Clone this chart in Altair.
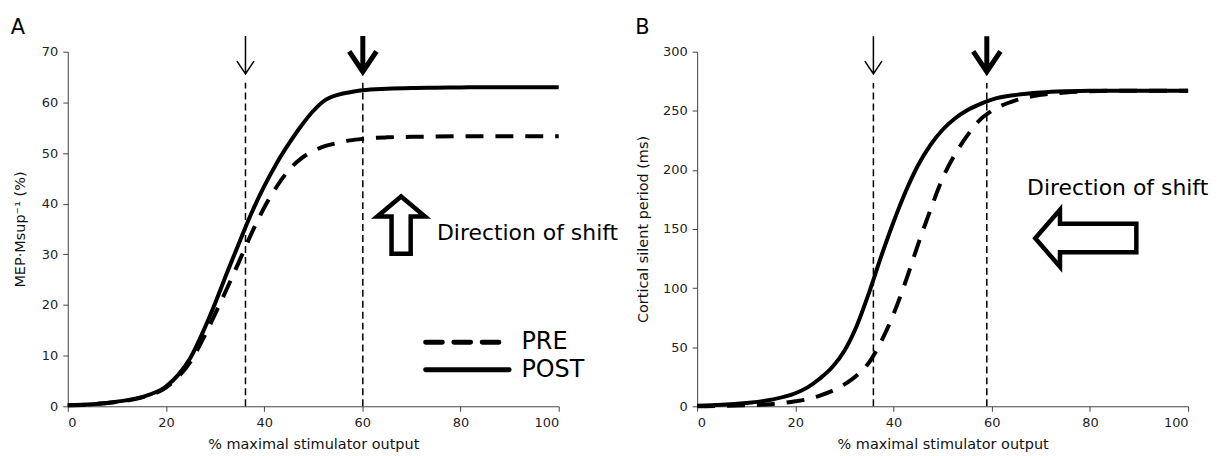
import altair as alt
import pandas as pd

# ---------------- data ----------------
stim = [0, 5, 10, 15, 20, 22.5, 25, 27.5, 30, 32.5, 35, 37.5, 40, 42.5, 45, 47.5,
        50, 52.5, 55, 57.5, 60, 65, 70, 75, 80, 85, 90, 95, 100]

mep_pre = [0.2, 0.4, 0.9, 1.7, 3.7, 5.8, 8.8, 13.2, 18.2, 23.4, 28.8, 34.3, 39.2, 43.3,
           46.6, 48.9, 50.4, 51.4, 52.0, 52.5, 52.8, 53.1, 53.2, 53.25, 53.3, 53.3,
           53.3, 53.3, 53.3]
mep_post = [0.2, 0.4, 0.9, 1.8, 3.9, 6.2, 9.6, 14.6, 20.3, 26.5, 32.5, 38.3, 43.4, 47.9,
            51.8, 55.3, 58.3, 60.5, 61.5, 62.0, 62.4, 62.7, 62.85, 62.9, 62.95, 63.0,
            63.0, 63.0, 63.0]

csp_pre = [0, 0.3, 0.8, 1.8, 4.2, 6, 9, 13, 18.5, 26, 37, 55, 78, 106, 137, 166, 193,
           213, 229, 242, 250, 259, 263.5, 265.5, 266.5, 267, 267, 267, 267]
csp_post = [0.5, 1.2, 2.8, 5.5, 11, 16, 23.5, 33, 47, 68, 96, 127, 156, 182, 204, 221,
            234, 243.5, 250.5, 255.5, 259.5, 263.5, 265.5, 266.5, 267, 267, 267, 267, 267]

x_ticks = [0, 20, 40, 60, 80, 100]
mep_ticks = [0, 10, 20, 30, 40, 50, 60, 70]
csp_ticks = [0, 50, 100, 150, 200, 250, 300]

mep_thresholds = [36.2, 60.1]
csp_thresholds = [35.9, 59.0]

FONT = "DejaVu Sans"
W, H = 493, 356

THIN_ARROW = "M0,-1 L0,1 M-0.45,0.32 L0,1 L0.45,0.32"
THICK_ARROW = "M0,-1 L0,0.88 M-0.72,-0.2 L0,0.88 L0.72,-0.2"
UP_BLOCK = "M0,-0.88 L0.75,-0.25 L0.3,-0.25 L0.3,0.92 L-0.3,0.92 L-0.3,-0.25 L-0.75,-0.25 Z"
LEFT_BLOCK = "M-0.93,0 L-0.47,-0.53 L-0.47,-0.27 L0.95,-0.27 L0.95,0.26 L-0.47,0.26 L-0.47,0.53 Z"


def make_panel(pre, post, ymax, yticks, ytitle, thresholds, vtop, arrow_y,
               letter, letter_xy, dir_xy, block_shape, block_xy, block_size,
               title_pad, legend=None):
    xs = alt.Scale(domain=[0, 100], nice=False, zero=False)
    ys = alt.Scale(domain=[0, ymax], nice=False)
    common = dict(grid=False, domainColor="#444", tickColor="#444", tickSize=5,
                  labelColor="#222", labelFont=FONT, labelFontSize=13,
                  titleFont=FONT, titleFontSize=14.5, titleFontWeight="normal",
                  titleColor="#111", labelPadding=5)
    xax = alt.Axis(values=x_ticks, title="% maximal stimulator output",
                   titlePadding=8, **common)
    yax = alt.Axis(values=yticks, title=ytitle, titlePadding=title_pad, **common)

    def X(f="x"):
        return alt.X(f, type="quantitative", scale=xs, axis=xax)

    def Y(f="y"):
        return alt.Y(f, type="quantitative", scale=ys, axis=yax)

    df = pd.DataFrame({
        "x": stim + stim,
        "y": pre + post,
        "cond": ["PRE"] * len(stim) + ["POST"] * len(stim),
    })
    layers = []
    layers.append(
        alt.Chart(df).transform_filter("datum.cond == 'PRE'")
        .mark_line(color="black", strokeWidth=4, strokeDash=[18, 12],
                   interpolate="monotone", strokeCap="butt")
        .encode(x=X(), y=Y())
    )
    layers.append(
        alt.Chart(df).transform_filter("datum.cond == 'POST'")
        .mark_line(color="black", strokeWidth=4, interpolate="monotone")
        .encode(x=X(), y=Y())
    )
    vdf = pd.DataFrame({"x": thresholds, "y": [0, 0], "y2": [vtop, vtop]})
    layers.append(
        alt.Chart(vdf).mark_rule(color="black", strokeWidth=1.5, strokeDash=[7, 4])
        .encode(x=X(), y=Y(), y2="y2")
    )
    adf_thin = pd.DataFrame({"x": [thresholds[0]], "y": [arrow_y]})
    adf_thick = pd.DataFrame({"x": [thresholds[1]], "y": [arrow_y]})
    layers.append(
        alt.Chart(adf_thin).mark_point(shape=THIN_ARROW, size=1444, filled=False,
                                       opacity=1, color="black", strokeWidth=1.5)
        .encode(x=X(), y=Y())
    )
    layers.append(
        alt.Chart(adf_thick).mark_point(shape=THICK_ARROW, size=1444, filled=False,
                                        opacity=1, color="black", strokeWidth=5,
                                        strokeJoin="miter")
        .encode(x=X(), y=Y())
    )
    bdf = pd.DataFrame({"x": [block_xy[0]], "y": [block_xy[1]]})
    layers.append(
        alt.Chart(bdf).mark_point(shape=block_shape, size=block_size, filled=False,
                                  opacity=1, color="black", strokeWidth=4.5,
                                  strokeJoin="miter")
        .encode(x=X(), y=Y())
    )
    tdf = pd.DataFrame({"x": [dir_xy[0]], "y": [dir_xy[1]], "t": ["Direction of shift"]})
    layers.append(
        alt.Chart(tdf).mark_text(align="left", baseline="middle", font=FONT,
                                 fontSize=22, color="black")
        .encode(x=X(), y=Y(), text="t:N")
    )
    ldf = pd.DataFrame({"x": [letter_xy[0]], "y": [letter_xy[1]], "t": [letter]})
    layers.append(
        alt.Chart(ldf).mark_text(align="left", baseline="alphabetic", font=FONT,
                                 fontSize=21, color="black")
        .encode(x=X(), y=Y(), text="t:N")
    )
    if legend is not None:
        lx0, lx_pre, lx_post, y_pre, y_post, tx = legend
        lg = pd.DataFrame({"x": [lx0], "x2": [lx_pre], "y": [y_pre]})
        layers.append(
            alt.Chart(lg).mark_rule(color="black", strokeWidth=5, strokeDash=[16.7, 11.7],
                                    strokeCap="round")
            .encode(x=X(), x2="x2", y=Y())
        )
        lg2 = pd.DataFrame({"x": [lx0], "x2": [lx_post], "y": [y_post]})
        layers.append(
            alt.Chart(lg2).mark_rule(color="black", strokeWidth=5, strokeCap="round")
            .encode(x=X(), x2="x2", y=Y())
        )
        lt = pd.DataFrame({"x": [tx, tx], "y": [y_pre, y_post], "t": ["PRE", "POST"]})
        layers.append(
            alt.Chart(lt).mark_text(align="left", baseline="middle", font=FONT,
                                    fontSize=24, color="black")
            .encode(x=X(), y=Y(), text="t:N")
        )
    return alt.layer(*layers).properties(width=W, height=H)


panel_a = make_panel(
    mep_pre, mep_post, 70, mep_ticks, "MEP·Msup⁻¹ (%)", mep_thresholds,
    vtop=63.9, arrow_y=69.35, letter="A", letter_xy=(-11.6, 73.5),
    dir_xy=(75.2, 34.3), block_shape=UP_BLOCK, block_xy=(67.9, 35.9),
    block_size=4096, title_pad=14,
    legend=(72.9, 87.85, 89.9, 12.66, 7.22, 92.4),
)
panel_b = make_panel(
    csp_pre, csp_post, 300, csp_ticks, "Cortical silent period (ms)", csp_thresholds,
    vtop=273.6, arrow_y=297.2, letter="B", letter_xy=(-12.6, 314.9),
    dir_xy=(67.2, 185), block_shape=LEFT_BLOCK, block_xy=(79.05, 142.2),
    block_size=11664, title_pad=12.5,
)

chart = (
    alt.hconcat(panel_a, panel_b, spacing=139, bounds="flush")
    .properties(padding={"left": 2, "top": 8, "right": 5, "bottom": 5})
    .configure_view(stroke=None)
)

chart.save("out.html", embed_options={"renderer": "svg", "actions": False})
